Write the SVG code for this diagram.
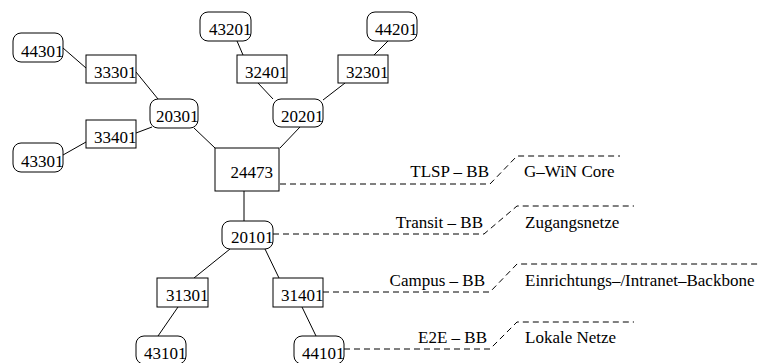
<svg xmlns="http://www.w3.org/2000/svg" width="760" height="363" viewBox="0 0 760 363">
<style>
.b{fill:#fff;stroke:#000;stroke-width:1}
.t{font-family:"Liberation Serif","Times New Roman",serif;font-size:17px;fill:#000}
.n{text-anchor:end}
.e{stroke:#000;stroke-width:1;fill:none}
.d{stroke:#000;stroke-width:1;fill:none;stroke-dasharray:6 4}
</style>
<rect width="760" height="363" fill="#fff"/>
<g id="connectors">
<line class="e" x1="63" y1="48" x2="86" y2="68"/>
<line class="e" x1="136" y1="72" x2="158" y2="99"/>
<line class="e" x1="136" y1="133" x2="152" y2="127"/>
<line class="e" x1="63" y1="155" x2="86" y2="142"/>
<line class="e" x1="194" y1="128" x2="215" y2="148"/>
<line class="e" x1="237" y1="41" x2="243" y2="55"/>
<line class="e" x1="258" y1="83" x2="273" y2="99"/>
<line class="e" x1="323" y1="100" x2="345" y2="83"/>
<line class="e" x1="388" y1="41" x2="374" y2="55"/>
<line class="e" x1="300" y1="127" x2="280" y2="148"/>
<line class="e" x1="244" y1="191" x2="244" y2="221"/>
<line class="e" x1="230" y1="249" x2="194" y2="278"/>
<line class="e" x1="265" y1="249" x2="279" y2="278"/>
<line class="e" x1="178" y1="307" x2="158" y2="336"/>
<line class="e" x1="302" y1="307" x2="316" y2="336"/>
<polyline class="d" points="280,184 490,184 517,156 620,156"/>
<polyline class="d" points="273,234 484,234 517,206 634,206"/>
<polyline class="d" points="323,292 490,292 517,264 760,264"/>
<polyline class="d" points="344,349 490,349 517,322 634,322"/>
</g>
<g id="n44301"><rect class="b" x="13" y="33" width="50" height="29" rx="8"/><text class="t n" x="63.5" y="56.5">44301</text></g>
<g id="n43301"><rect class="b" x="13" y="143" width="50" height="29" rx="8"/><text class="t n" x="63.5" y="166.5">43301</text></g>
<g id="n33301"><rect class="b" x="86" y="55" width="50" height="28"/><text class="t n" x="136.5" y="77.5">33301</text></g>
<g id="n33401"><rect class="b" x="86" y="120" width="50" height="28"/><text class="t n" x="136.5" y="142.5">33401</text></g>
<g id="n20301"><rect class="b" x="150" y="99" width="48" height="29" rx="8"/><text class="t n" x="198.5" y="122">20301</text></g>
<g id="n43201"><rect class="b" x="200" y="12" width="51" height="29" rx="8"/><text class="t n" x="251.5" y="35">43201</text></g>
<g id="n32401"><rect class="b" x="237" y="55" width="50" height="28"/><text class="t n" x="287.5" y="77.5">32401</text></g>
<g id="n20201"><rect class="b" x="273" y="99" width="50" height="28" rx="8"/><text class="t n" x="323.5" y="121.5">20201</text></g>
<g id="n32301"><rect class="b" x="338" y="55" width="50" height="28"/><text class="t n" x="388.5" y="77.5">32301</text></g>
<g id="n44201"><rect class="b" x="367" y="12" width="50" height="29" rx="8"/><text class="t n" x="417.5" y="35">44201</text></g>
<g id="n24473"><rect class="b" x="215" y="148" width="64" height="43"/><text class="t n" x="273" y="178">24473</text></g>
<g id="n20101"><rect class="b" x="222" y="221" width="51" height="28" rx="8"/><text class="t n" x="273.5" y="243">20101</text></g>
<g id="n31301"><rect class="b" x="157" y="278" width="51" height="29"/><text class="t n" x="208.5" y="301">31301</text></g>
<g id="n31401"><rect class="b" x="273" y="278" width="50" height="29"/><text class="t n" x="323.5" y="301">31401</text></g>
<g id="n43101"><rect class="b" x="136" y="336" width="50" height="28" rx="8"/><text class="t n" x="186.5" y="358.5">43101</text></g>
<g id="n44101"><rect class="b" x="294" y="336" width="50" height="28" rx="8"/><text class="t n" x="344.5" y="358.5">44101</text></g>
<g id="labels">
<text class="t n" x="489" y="177">TLSP – BB</text>
<text class="t n" x="483" y="228">Transit – BB</text>
<text class="t n" x="485" y="286">Campus – BB</text>
<text class="t n" x="487" y="343">E2E – BB</text>
<text class="t" x="524" y="177">G–WiN Core</text>
<text class="t" x="525" y="228">Zugangsnetze</text>
<text class="t" x="525" y="286">Einrichtungs–/Intranet–Backbone</text>
<text class="t" x="525" y="343">Lokale Netze</text>
</g>
</svg>
